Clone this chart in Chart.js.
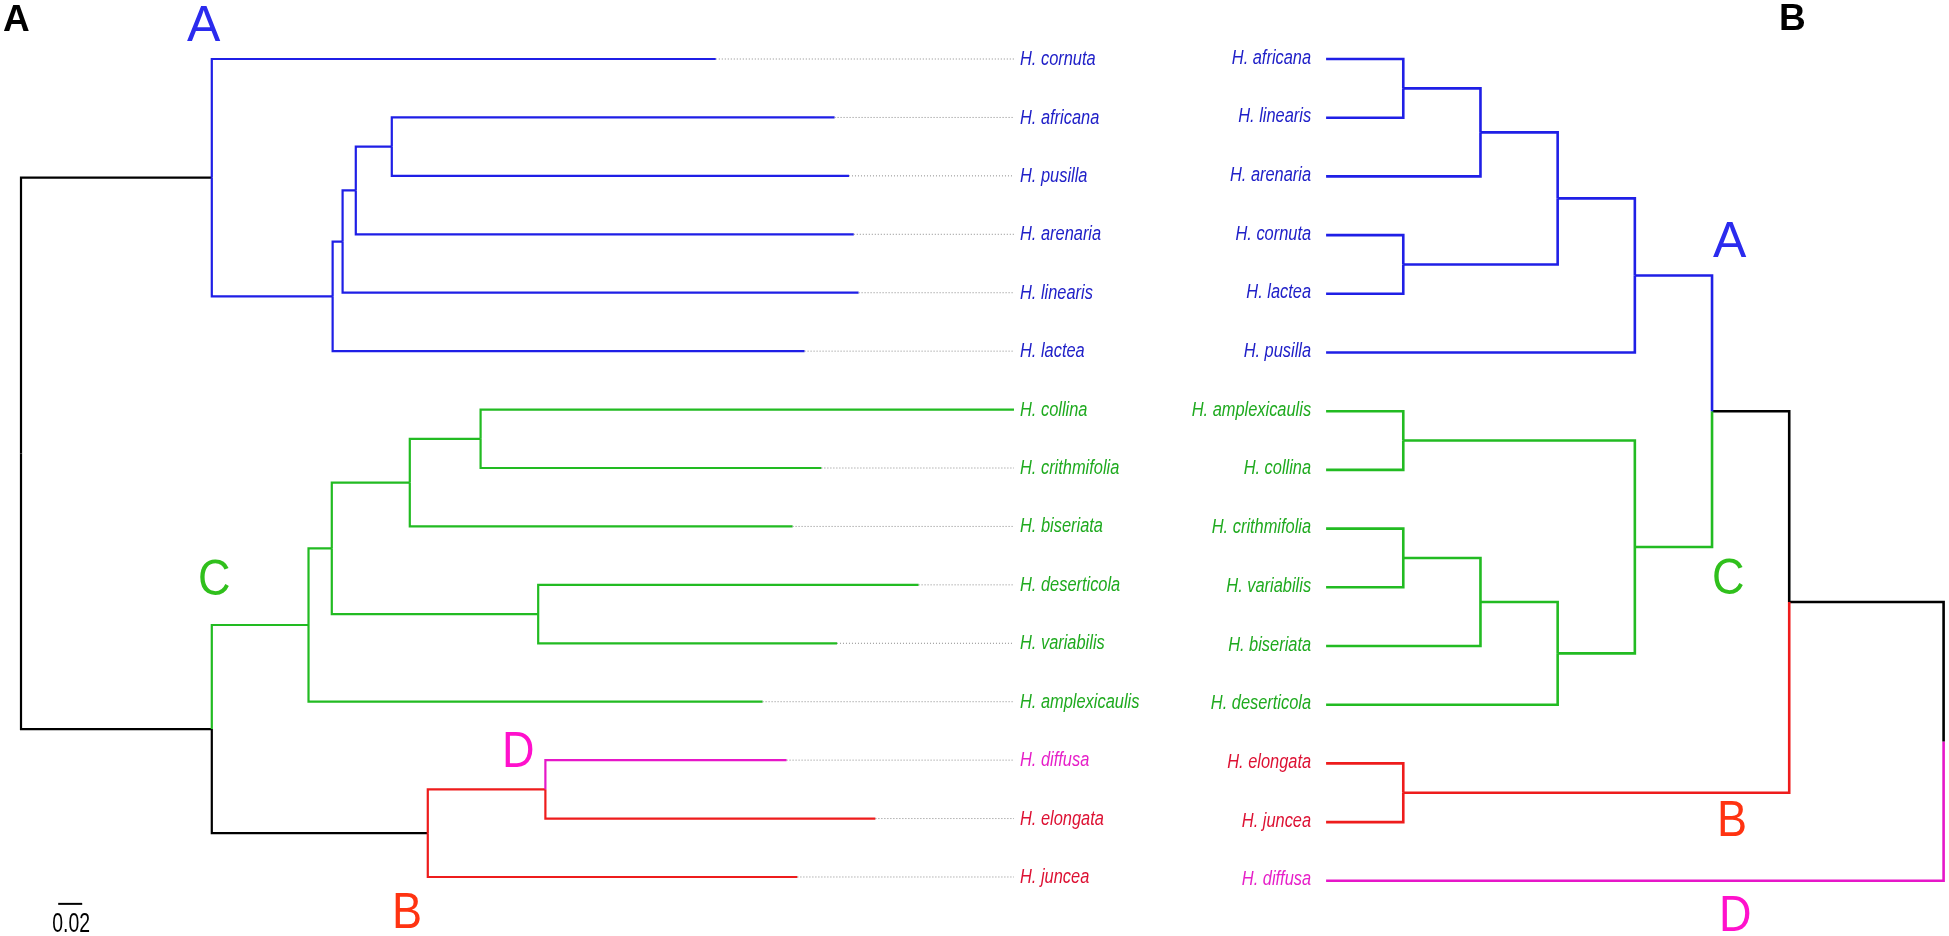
<!DOCTYPE html>
<html><head><meta charset="utf-8">
<script src="https://cdn.jsdelivr.net/npm/chart.js@4.4.1/dist/chart.umd.min.js"></script>
<style>html,body{margin:0;padding:0;background:#fff;overflow:hidden}#wrap{position:relative;width:1949px;height:936px}</style>
</head><body><div id="wrap"><canvas id="c"></canvas></div>
<script>
// ---------- Panel A: phylogram (branch lengths, substitutions) ----------
const leftLeaves = ['H. cornuta','H. africana','H. pusilla','H. arenaria','H. linearis','H. lactea',
  'H. collina','H. crithmifolia','H. biseriata','H. deserticola','H. variabilis','H. amplexicaulis',
  'H. diffusa','H. elongata','H. juncea'];
const leftTipDepth = [0.579,0.678,0.690,0.694,0.698,0.653,0.8275,0.667,0.643,0.748,0.680,0.618,0.638,0.712,0.647];
const leftLeafClade = ['A','A','A','A','A','A','C','C','C','C','C','C','D','B','B'];
const leftNodeIds = ['n1','n2','n3','n4','n5','n6','n7','n8','n9','n10','n11','n12','n13','n14'];
const leftNodeDepth = [0.309,0.279,0.268,0.2597,0.159,0.383,0.324,0.431,0.259,0.2396,0.437,0.339,0.159,0.0];
const leftNodeChildren = [['L1','L2'],['n1','L3'],['n2','L4'],['n3','L5'],['L0','n4'],
  ['L6','L7'],['n6','L8'],['L9','L10'],['n7','n8'],['n9','L11'],
  ['L12','L13'],['n11','L14'],['n10','n12'],['n5','n13']];
const leftNodeClade = ['A','A','A','A','root','C','C','C','C','C','B','root','root','root'];
const scaleBarStart = 0.031, scaleBarLength = 0.02, scaleBarLabel = '0.02';

// ---------- Panel B: cladogram (levels) ----------
const rightLeaves = ['H. africana','H. linearis','H. arenaria','H. cornuta','H. lactea','H. pusilla',
  'H. amplexicaulis','H. collina','H. crithmifolia','H. variabilis','H. biseriata','H. deserticola',
  'H. elongata','H. juncea','H. diffusa'];
const rightLeafLevel = [0,0,0,0,0,0,0,0,0,0,0,0,0,0,0];
const rightLeafClade = ['A','A','A','A','A','A','C','C','C','C','C','C','B','B','D'];
const rightNodeIds = ['m1','m2','m3','m4','m5','m6','m7','m8','m9','m10','m11','m12','m13','m14'];
const rightNodeLevel = [1,2,1,3,4,1,1,2,3,4,5,1,6,8];
const rightNodeChildren = [['L0','L1'],['m1','L2'],['L3','L4'],['m2','m3'],['m4','L5'],
  ['L6','L7'],['L8','L9'],['m7','L10'],['m8','L11'],['m6','m9'],
  ['m5','m10'],['L12','L13'],['m11','m12'],['m13','L14']];
const rightNodeClade = ['A','A','A','A','A','C','C','C','C','C','root','B','root','root'];

// ---------- styles ----------
const lineColors = {A:'#1f1fe6', C:'#22bb22', B:'#ee1c1c', D:'#e617c8', root:'#000000'};
const textColors = {A:'#2020c8', C:'#1faa1f', B:'#dd1133', D:'#e61fc8'};
const cladeLabelColors = {A:'#2b2bee', C:'#30c01c', B:'#ff3311', D:'#ff11cc'};

function buildTree(names, leafX, leafClade, ids, nodeX, children, clade){
  const pos = {};
  names.forEach((n,i)=>{ pos['L'+i] = {x:leafX[i], y:i, clade:leafClade[i]}; });
  ids.forEach((id,k)=>{
    const ch = children[k];
    const y = ch.reduce((s,c)=>s+pos[c].y,0)/ch.length;
    pos[id] = {x:nodeX[k], y:y, clade:clade[k], children:ch};
  });
  return pos;
}
function branchSets(pos, ids, xa, ya, w){
  const ds = [];
  ids.forEach(id=>{
    const p = pos[id];
    p.children.forEach(c=>{
      const q = pos[c];
      ds.push({data:[{x:p.x,y:p.y},{x:p.x,y:q.y},{x:q.x,y:q.y}],
        borderColor:lineColors[q.clade], borderWidth:w, showLine:true, pointRadius:0,
        fill:false, tension:0, borderJoinStyle:'miter', borderCapStyle:'butt',
        xAxisID:xa, yAxisID:ya});
    });
  });
  return ds;
}

const leftPos = buildTree(leftLeaves, leftTipDepth, leftLeafClade, leftNodeIds, leftNodeDepth, leftNodeChildren, leftNodeClade);
const rightPos = buildTree(rightLeaves, rightLeafLevel, rightLeafClade, rightNodeIds, rightNodeLevel, rightNodeChildren, rightNodeClade);
const leftAlign = Math.max(...leftTipDepth);

const datasets = [];
leftTipDepth.forEach((d,i)=>{
  if (d < leftAlign) datasets.push({data:[{x:d,y:i},{x:leftAlign,y:i}], borderColor:'#8a8a8a',
    borderWidth:1, borderDash:[1,2], showLine:true, pointRadius:0, xAxisID:'xL', yAxisID:'yL'});
});
datasets.push(...branchSets(leftPos, leftNodeIds, 'xL', 'yL', 2.2));
datasets.push(...branchSets(rightPos, rightNodeIds, 'xR', 'yR', 2.6));
const barRow = 14.46;
datasets.push({data:[{x:scaleBarStart,y:barRow},{x:scaleBarStart+scaleBarLength,y:barRow}],
  borderColor:'#000', borderWidth:2, showLine:true, pointRadius:0, xAxisID:'xL', yAxisID:'yL'});

function narrowText(ctx, txt, x, y, align, base, font, color, sx){
  ctx.save(); ctx.translate(x,y); ctx.scale(sx,1);
  ctx.font = font; ctx.textAlign = align; ctx.textBaseline = base; ctx.fillStyle = color;
  ctx.fillText(txt,0,0); ctx.restore();
}

const textPlugin = {
  id:'treeText',
  afterDatasetsDraw(chart){
    const ctx = chart.ctx, s = chart.scales;
    const leafFont = 'italic 20px "Liberation Sans", Arial, sans-serif';
    const lx = s.xL.getPixelForValue(leftAlign) + 6;
    leftLeaves.forEach((n,i)=> narrowText(ctx, n, lx, s.yL.getPixelForValue(i)+0.5, 'left', 'middle', leafFont, textColors[leftLeafClade[i]], 0.82));
    const rx = s.xR.getPixelForValue(0) - 15;
    rightLeaves.forEach((n,i)=> narrowText(ctx, n, rx, s.yR.getPixelForValue(i)-1, 'right', 'middle', leafFont, textColors[rightLeafClade[i]], 0.82));
    // scale bar label
    const bx = (s.xL.getPixelForValue(scaleBarStart) + s.xL.getPixelForValue(scaleBarStart+scaleBarLength))/2;
    narrowText(ctx, scaleBarLabel, bx+1, s.yL.getPixelForValue(barRow)+28, 'center', 'alphabetic', '27px "Liberation Sans", Arial, sans-serif', '#000', 0.72);
    // clade labels
    const cf = '50px "Liberation Sans", Arial, sans-serif';
    [['A',187,41],['C',198,595],['D',502,767],['B',392,928],
     ['A',1713,257],['C',1712,594],['B',1717,836],['D',1719,931]].forEach(([t,x,y])=>
      narrowText(ctx, t, x, y, 'left', 'alphabetic', cf, cladeLabelColors[t], t==='A'?1:0.9));
    // panel labels
    const pf = 'bold 37px "Liberation Sans", Arial, sans-serif';
    narrowText(ctx, 'A', 3, 31, 'left', 'alphabetic', pf, '#000', 1);
    narrowText(ctx, 'B', 1779, 30, 'left', 'alphabetic', pf, '#000', 1);
  }
};

new Chart(document.getElementById('c'), {
  type:'scatter',
  data:{datasets},
  options:{
    responsive:true, maintainAspectRatio:false, animation:false,
    layout:{padding:0, autoPadding:false},
    plugins:{legend:{display:false}, tooltip:{enabled:false}},
    events:[],
    scales:{
      xL:{type:'linear', display:false, min:-0.0175, max:1.6067},
      yL:{type:'linear', display:false, reverse:true, min:-1.01, max:15.01},
      xR:{type:'linear', display:false, min:-17.18, max:8.07},
      yR:{type:'linear', display:false, reverse:true, min:-1.005, max:14.94}
    }
  },
  plugins:[textPlugin]
});
</script></body></html>
